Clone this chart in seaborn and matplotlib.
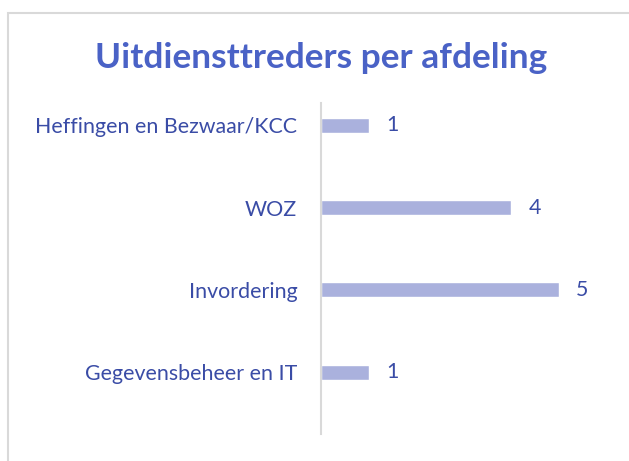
import matplotlib
matplotlib.use("Agg")
import matplotlib.pyplot as plt
import pandas as pd
import seaborn as sns
from matplotlib.patches import Rectangle

sns.set_theme(style="white")
plt.rcParams["font.family"] = ["Lato", "DejaVu Sans"]

afdelingen = ["Heffingen en Bezwaar/KCC", "WOZ", "Invordering", "Gegevensbeheer en IT"]
uitdiensttreders = [1, 4, 5, 1]

df = pd.DataFrame({"afdeling": afdelingen, "aantal": uitdiensttreders})

bar_color = "#AAB1DD"
text_color = "#3A4CA6"
title_color = "#4A62C6"
grid_color = "#D9D9D9"

W, H = 629, 461
fig = plt.figure(figsize=(W / 100, H / 100), dpi=100)
fig.patch.set_facecolor("white")

# chart frame (partly cut off in the screenshot)
fig.add_artist(Rectangle((8 / W, -0.1), 1.1, 1 - 13 / H + 0.1, transform=fig.transFigure,
                         fill=False, edgecolor=grid_color, linewidth=1.5))

ax = fig.add_axes([321 / W, 1 - 434 / H, 285 / W, 331 / H])
sns.barplot(data=df, x="aantal", y="afdeling", orient="h", color=bar_color,
            width=0.18, saturation=1, ax=ax)
ax.set_xlim(0, 6)
ax.set_ylim(3.75, -0.27)
ax.set_xlabel("")
ax.set_ylabel("")
ax.set_xticks([])
for s in ["top", "right", "bottom"]:
    ax.spines[s].set_visible(False)
ax.spines["left"].set_color(grid_color)
ax.spines["left"].set_linewidth(1.5)
ax.tick_params(axis="y", length=0, pad=17, labelsize=15.4, labelcolor=text_color)
ax.set_facecolor("none")

for i, v in enumerate(uitdiensttreders):
    ax.annotate(str(v), (v, i), xytext=(12.5, 0), textcoords="offset points",
                ha="left", va="center", fontsize=15.4, color=text_color)

fig.text(321 / W, 1 - 58 / H, "Uitdiensttreders per afdeling", ha="center", va="center",
         fontsize=25.4, fontweight="bold", color=title_color)

fig.savefig("out.png", dpi=100)
